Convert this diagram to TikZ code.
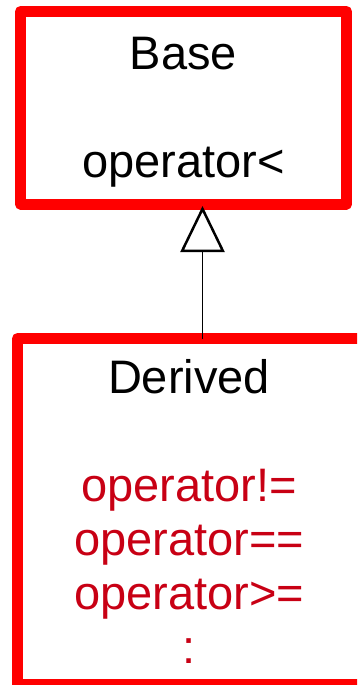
\documentclass[tikz,border=0pt]{standalone}
\usepackage{fontspec}
\setmainfont{Liberation Sans}
\usetikzlibrary{arrows.meta}
\definecolor{opred}{RGB}{200,0,20}
\begin{document}
\begin{tikzpicture}[x=1pt,y=-1pt,
  classbox/.style={draw=red,line width=11pt,line join=round,outer sep=0pt,inner sep=0pt},
  members/.style={align=center,inner sep=0pt,font=\fontsize{47}{54}\selectfont}]
\useasboundingbox (0,0) rectangle (357,685);
\clip (0,0) rectangle (357,685);
\node[classbox,minimum width=326pt,minimum height=192.5pt] (base) at (183.5,107.75) {};
\node[classbox,minimum width=350pt,minimum height=346pt] (derived) at (192.5,511.5) {};
\node[members] (basetext) at ([yshift=-4pt]base.center) {Base\\[54pt]operator<};
\node[members] (derivedtext) at ([xshift=-3.5pt]derived.center) {Derived\\[54pt]\color{opred}operator!=\\\color{opred}operator==\\\color{opred}operator>=\\\color{opred}:};
\draw[line width=1pt,-{Triangle[open,length=46pt,width=44pt,line width=2.5pt]}] ([xshift=10pt]derived.north) -- ([xshift=19pt,yshift=-2pt]base.south);
\end{tikzpicture}
\end{document}
